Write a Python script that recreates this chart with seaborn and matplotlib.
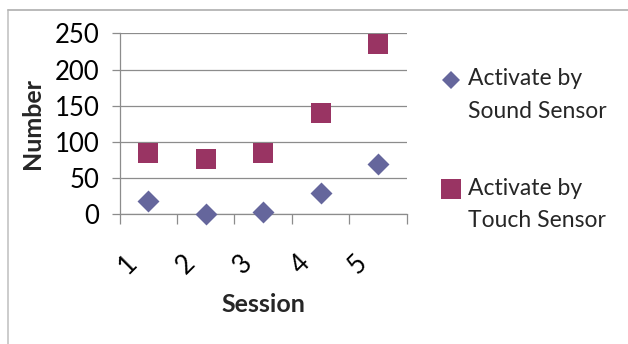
import matplotlib
matplotlib.use("Agg")
import matplotlib.pyplot as plt
from matplotlib.lines import Line2D
from matplotlib.transforms import ScaledTranslation
import numpy as np
import pandas as pd
import seaborn as sns

# Values per session
sessions = ["1", "2", "3", "4", "5"]
sound_sensor = [19, 0, 3, 29, 70]
touch_sensor = [84, 76, 84, 140, 235]
series_names = ["Activate by\nSound Sensor", "Activate by\nTouch Sensor"]
y_ticks = [0, 50, 100, 150, 200, 250]

sns.set_style("white")
plt.rcParams["font.family"] = ["Lato", "DejaVu Sans"]

GRID = "#8c8c8c"
SOUND_COLOR = "#65669c"
TOUCH_COLOR = "#993463"

df = pd.DataFrame({
    "Session": sessions * 2,
    "Number": sound_sensor + touch_sensor,
    "Series": [series_names[0]] * len(sessions) + [series_names[1]] * len(sessions),
})

W, H = 628, 344
fig = plt.figure(figsize=(W / 100, H / 100), dpi=100)
left, right, top, bottom = 119.5, 406.7, 33.3, 214.3
ax = fig.add_axes([left / W, 1 - bottom / H, (right - left) / W, (bottom - top) / H])

sns.scatterplot(data=df[df["Series"] == series_names[0]], x="Session", y="Number",
                marker="D", s=125, color=SOUND_COLOR, linewidth=0, ax=ax,
                legend=False, clip_on=False, zorder=3)
sns.scatterplot(data=df[df["Series"] == series_names[1]], x="Session", y="Number",
                marker="s", s=222, color=TOUCH_COLOR, linewidth=0, ax=ax,
                legend=False, clip_on=False, zorder=3)

ax.set_xlim(-0.5, len(sessions) - 0.5)
ax.set_ylim(0, 250)
ax.set_yticks(y_ticks)
ax.set_yticklabels([str(v) for v in y_ticks])
ax.set_xticks(range(len(sessions)))
ax.set_xticklabels(sessions)
ax.set_xticks(np.arange(-0.5, len(sessions)), minor=True)

ax.grid(axis="y", color=GRID, linewidth=0.9)
ax.grid(axis="x", visible=False)
ax.set_axisbelow(True)
for side in ["top", "right"]:
    ax.spines[side].set_visible(False)
for side in ["left", "bottom"]:
    ax.spines[side].set_color(GRID)
    ax.spines[side].set_linewidth(0.9)

ax.tick_params(axis="y", which="major", left=True, length=5.8, width=0.9,
               color=GRID, pad=8.6, labelsize=18.5, labelcolor="black")
ax.tick_params(axis="x", which="major", bottom=True, length=0, pad=26,
               labelsize=18.5, labelcolor="black")
ax.tick_params(axis="x", which="minor", bottom=True, length=7.2, width=0.9,
               color=GRID)

shift = ScaledTranslation(-20 / 100, 0, fig.dpi_scale_trans)
for lab in ax.get_xticklabels():
    lab.set_rotation(45)
    lab.set_ha("center")
    lab.set_va("top")
    lab.set_transform(lab.get_transform() + shift)

ax.set_xlabel("Session", fontsize=18, fontweight="bold", va="center")
ax.xaxis.set_label_coords(0.5, -0.4956)
ax.set_ylabel("Number", fontsize=18, fontweight="bold", va="center")
ax.yaxis.set_label_coords((32 - left) / (right - left), 0.5)

handles = [
    Line2D([], [], linestyle="none", marker="D", markersize=9.2,
           markerfacecolor=SOUND_COLOR, markeredgewidth=0),
    Line2D([], [], linestyle="none", marker="s", markersize=13.7,
           markerfacecolor=TOUCH_COLOR, markeredgewidth=0),
]
leg = fig.legend(handles, series_names, loc="upper left",
                 bbox_to_anchor=(441 / W, 1 - 68 / H), frameon=False,
                 borderpad=0, borderaxespad=0, fontsize=16.5,
                 handlelength=0.9, handletextpad=0.3, labelspacing=2.45)
for t in leg.get_texts():
    t.set_linespacing(1.68)
for h in leg.legend_handles:
    y = np.asarray(h.get_ydata(), dtype=float)
    h.set_ydata(y + 11.2)

# light frame along the left and top edges
fig.add_artist(Line2D([8 / W, 8 / W], [0, 1 - 10 / H], transform=fig.transFigure,
                      color="#c8c8c8", linewidth=1.3))
fig.add_artist(Line2D([8 / W, 1], [1 - 10 / H, 1 - 10 / H], transform=fig.transFigure,
                      color="#b4b4b4", linewidth=1.3))

fig.savefig("out.png", dpi=100)
